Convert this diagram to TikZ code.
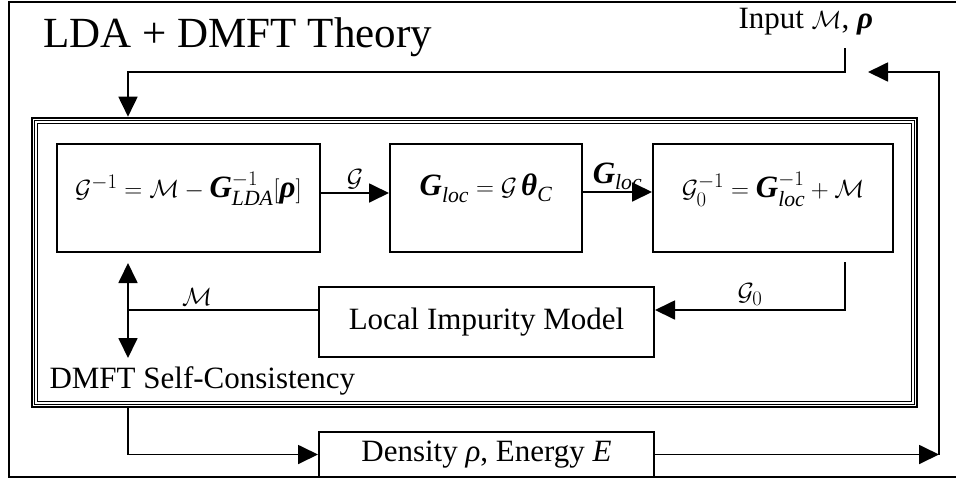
\documentclass[tikz,border=0pt]{standalone}
\usepackage{amsmath,bm}
\usepackage{fontspec}
\setmainfont{Liberation Serif}
\usetikzlibrary{arrows.meta, positioning, calc}

% bold italic letters and italic indices in the Times-like text face
\newcommand{\bG}{\text{\bfseries\itshape G}}
\newcommand{\brho}{\text{\bfseries\itshape ρ}}
\newcommand{\btheta}{\text{\bfseries\itshape θ}}
\newcommand{\subit}[1]{\text{\itshape #1}}

\begin{document}
\begin{tikzpicture}[
            x=1pt, y=-1pt,
            font=\fontsize{31}{37}\selectfont,
            box/.style={rectangle, draw=black, line width=2pt, inner sep=0pt},
            eqbox/.style={box, minimum height=108pt, text depth=26pt},
            arr/.style={draw=black, line width=1.8pt, -{Triangle[length=20pt, width=19pt]}},
            link/.style={draw=black, line width=1.8pt},
            frame/.style={draw=black, line width=2.2pt}
        ]
            \useasboundingbox (0,0) rectangle (956,483);

            % --- outer frame (cut at the right edge) ---
            \draw[frame] (956,2) -| (9,477) -- (956,477);
            \node[anchor=base west, font=\fontsize{43}{50}\selectfont] (title) at (40,47) {LDA + DMFT Theory};

            % --- self-consistency frame ---
            \node[draw=black, line width=2.6pt, minimum width=885pt, minimum height=289pt] (scf) at (474.5,262.5) {};
            \foreach \d in {3.6,7} {
                \draw[line width=1.4pt] ([xshift=\d pt, yshift=-\d pt]scf.north west) rectangle ([xshift=-\d pt, yshift=\d pt]scf.south east);
            }

            % --- nodes ---
            \node[eqbox, minimum width=263pt] (dyson) at (188.5,198) {$\mathcal{G}^{-1} = \mathcal{M} - \bG_{\subit{LDA}}^{-1}[\brho]$};
            \node[eqbox, minimum width=192pt] (gloc) at (486,198) {$\bG_{\subit{loc}} = \mathcal{G}\,\btheta_{\subit{C}}$};
            \node[eqbox, minimum width=240pt] (weiss) at (773,198) {$\mathcal{G}_0^{-1} = \bG_{\subit{loc}}^{-1} + \mathcal{M}$};
            \node[box, minimum width=335pt, minimum height=70pt] (imp) at (486.5,322) {Local Impurity Model};
            \node[box, minimum width=335pt, minimum height=45pt] (dens) at (486.5,454.5) {Density \textit{ρ}, Energy \textit{E}};
            \node[anchor=base west] (scflabel) at (46,388) {DMFT Self-Consistency};
            \node[anchor=base west] (input) at (735,28) {Input $\mathcal{M}$, \textbf{\textit{ρ}}};

            % --- loop inside ---
            \draw[arr] ([yshift=5pt]dyson.east) -- ([yshift=5pt]gloc.west) node[midway, above] {$\mathcal{G}$};
            \draw[arr] ([yshift=6pt]gloc.east) -- ([yshift=6pt]weiss.west) node[midway, above, yshift=-2pt] {$\bG_{\subit{loc}}$};

            \coordinate (g0start) at (845,262);
            \draw[arr] (g0start) |- ([yshift=12pt]imp.east) node[pos=0.75, above] {$\mathcal{G}_0$};

            \coordinate (sigtop) at (128,263);
            \coordinate (sigbot) at (128,358);
            \draw[link] ([yshift=12pt]imp.west) -- ([yshift=12pt]imp.west -| sigtop) node[midway, above, xshift=-26pt] {$\mathcal{M}$};
            \draw[link, {Triangle[length=20pt, width=19pt]}-{Triangle[length=20pt, width=19pt]}] (sigtop) -- (sigbot);

            % --- outer loop ---
            \coordinate (inbend) at (128,72);
            \coordinate (instart) at (845,48);
            \draw[arr] (instart) |- (inbend) -- (inbend |- scf.north);
            \draw[arr] (scf.south -| inbend) |- (dens.west);

            \coordinate (rcorner) at (939,454.5);
            \coordinate (rtip) at (868,72);
            \draw[arr] (dens.east) -- (rcorner);
            \draw[arr] (rcorner) |- (rtip);
        \end{tikzpicture}
\end{document}
